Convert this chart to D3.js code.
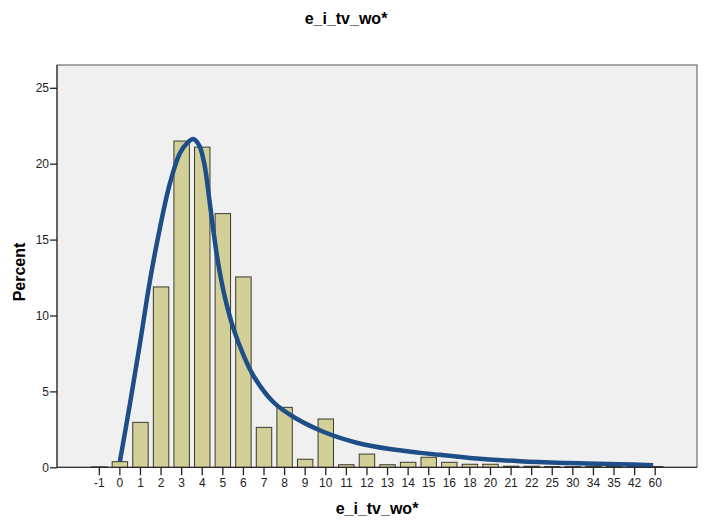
<!DOCTYPE html>
<meta charset="utf-8" />
<script src="https://d3js.org/d3.v7.min.js"></script>
<style>
  body { margin: 0; background: #fff; }
  text { font-family: "Liberation Sans", Arial, Helvetica, sans-serif; }
  .tick-label { font-size: 12px; fill: #222; }
  .axis-title { font-size: 16px; font-weight: bold; fill: #000; }
</style>
<body>
<svg id="chart" width="706" height="525"></svg>
<script>
  // categories on the x axis (values of e_i_tv_wo*)
  const categories = ["-1","0","1","2","3","4","5","6","7","8","9","10","11","12","13","14","15","16","18","20","21","22","25","30","34","35","42","60"];
  // percent for each category
  const percents = [0.03,0.37,2.96,11.88,21.49,21.09,16.71,12.54,2.63,3.95,0.53,3.18,0.17,0.87,0.17,0.33,0.66,0.33,0.2,0.2,0.07,0.07,0.05,0.05,0.05,0.05,0.05,0.05];
  const yTicks = [0, 5, 10, 15, 20, 25];

  // fitted curve, position = index in categories list, value = percent
  const curvePos = [1.0, 1.49, 1.98, 2.46, 2.95, 3.43, 3.92, 4.3, 4.57, 4.85, 5.1, 5.33, 5.54, 5.78, 6.1, 6.5, 7.0, 7.5, 8.45, 9.42, 10.88, 12.5, 14.12, 15.58, 16.55, 18.0, 20.43, 22.86, 25.29, 26.9];
  const curvePct = [0.37, 4.2, 8.2, 12.3, 15.8, 18.7, 20.7, 21.4, 21.62, 21.2, 20.0, 17.8, 15.6, 13.4, 11.2, 9.2, 7.4, 6.0, 4.3, 3.33, 2.34, 1.62, 1.2, 0.95, 0.82, 0.62, 0.4, 0.28, 0.2, 0.14];

  const svg = d3.select("#chart");

  // plot area
  const plotLeft = 57, plotRight = 697, plotTop = 65, plotBottom = 467.3;

  const x = d3.scaleBand()
    .domain(categories)
    .range([89, 665.5])
    .paddingInner(0.25)
    .paddingOuter(0.125);

  const y = d3.scaleLinear().domain([0, 26.5]).range([plotBottom, plotTop]);

  // position scale for the curve (index -> band centre)
  const xPos = d3.scaleLinear()
    .domain([0, categories.length - 1])
    .range([x(categories[0]) + x.bandwidth() / 2, x(categories[categories.length - 1]) + x.bandwidth() / 2]);

  // background
  svg.append("rect")
    .attr("x", plotLeft)
    .attr("y", plotTop)
    .attr("width", plotRight - plotLeft)
    .attr("height", plotBottom - plotTop)
    .attr("fill", "#f0f0f0")
    .attr("stroke", "#555")
    .attr("stroke-width", 1);

  // bars
  svg.append("g")
    .selectAll("rect")
    .data(categories)
    .enter()
    .append("rect")
    .attr("x", d => x(d))
    .attr("y", (d, i) => y(percents[i]))
    .attr("width", x.bandwidth())
    .attr("height", (d, i) => plotBottom - y(percents[i]))
    .attr("fill", "#d3cf98")
    .attr("stroke", "#3a3a30")
    .attr("stroke-width", 1);

  // fitted curve
  const line = d3.line()
    .x(d => xPos(d[0]))
    .y(d => y(d[1]))
    .curve(d3.curveCatmullRom.alpha(0.5));

  svg.append("path")
    .datum(curvePos.map((p, i) => [p, curvePct[i]]))
    .attr("d", line)
    .attr("fill", "none")
    .attr("stroke", "#1e4e88")
    .attr("stroke-width", 4.5)
    .attr("stroke-linecap", "butt");

  // x axis
  const xAxis = svg.append("g")
    .attr("transform", "translate(0," + plotBottom + ")")
    .call(d3.axisBottom(x).tickSize(8).tickPadding(3));
  xAxis.select(".domain")
    .attr("d", "M" + plotLeft + ",0H" + plotRight)
    .attr("stroke", "#222");
  xAxis.selectAll(".tick line").attr("stroke", "#222").attr("stroke-width", 1.3);
  xAxis.selectAll(".tick text").attr("class", "tick-label").attr("font-size", null).attr("font-family", null);

  // y axis
  const yAxis = svg.append("g")
    .attr("transform", "translate(" + plotLeft + ",0)")
    .call(d3.axisLeft(y).tickValues(yTicks).tickSize(7).tickPadding(1));
  yAxis.select(".domain")
    .attr("d", "M0," + plotTop + "V" + plotBottom)
    .attr("stroke", "#222");
  yAxis.selectAll(".tick line").attr("stroke", "#222").attr("stroke-width", 1.3);
  yAxis.selectAll(".tick text").attr("class", "tick-label").attr("font-size", null).attr("font-family", null);

  // titles
  svg.append("text")
    .attr("class", "axis-title")
    .attr("x", 346)
    .attr("y", 24)
    .attr("text-anchor", "middle")
    .text("e_i_tv_wo*");

  svg.append("text")
    .attr("class", "axis-title")
    .attr("x", (plotLeft + plotRight) / 2)
    .attr("y", 514)
    .attr("text-anchor", "middle")
    .text("e_i_tv_wo*");

  svg.append("text")
    .attr("class", "axis-title")
    .attr("transform", "translate(25," + 272 + ") rotate(-90)")
    .attr("text-anchor", "middle")
    .text("Percent");
</script>
</body>
